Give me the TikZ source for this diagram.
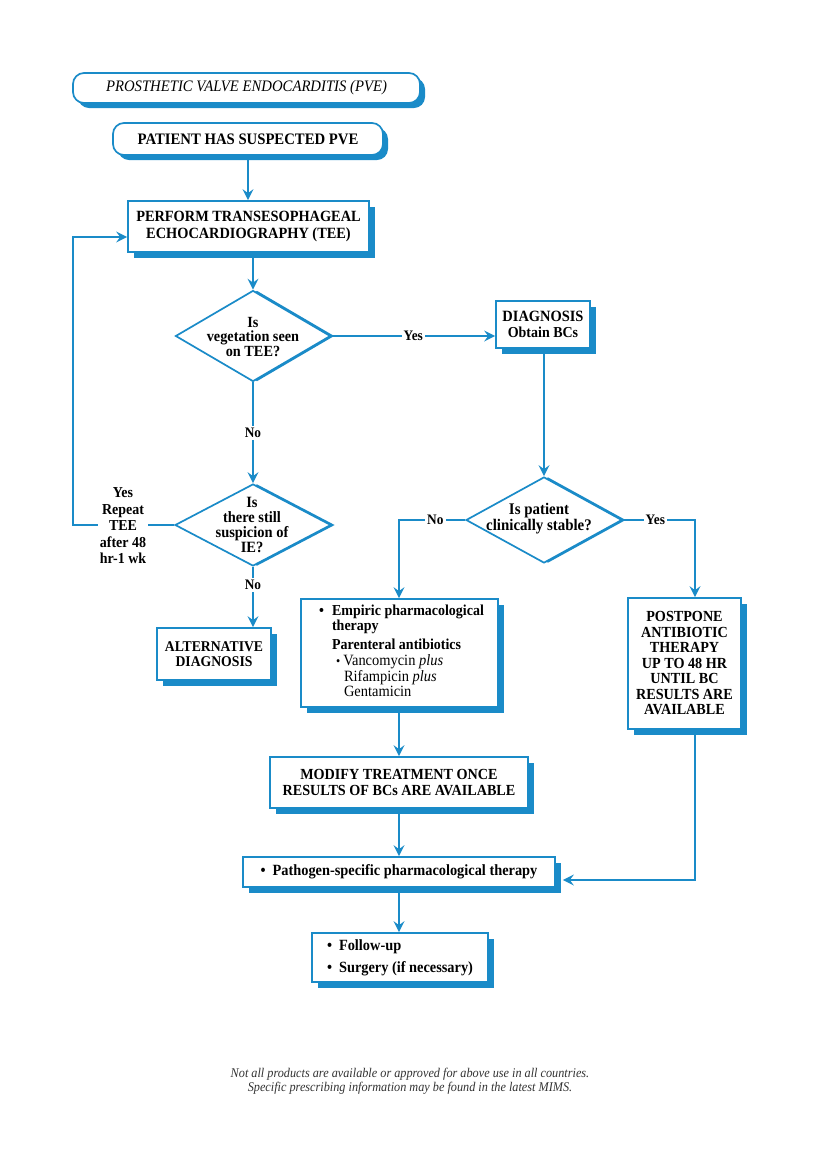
\documentclass[tikz,border=0pt]{standalone}
\usepackage{fontspec}
\setmainfont{Liberation Serif}[FakeStretch=0.92]
\usetikzlibrary{shapes.geometric,arrows.meta,shadows}
\definecolor{pblue}{HTML}{1A8BC8}
\definecolor{foot}{HTML}{333333}
\newcommand\boxfont{\bfseries\fontsize{15.4}{15.5}\selectfont}
\newcommand\fs[2]{\fontsize{#1}{#2}\selectfont}
\tikzset{
  conn/.style={draw=pblue, line width=2.5pt},
  arr/.style={conn, -{Stealth[length=11pt,width=11pt,inset=4pt]}},
  boxbase/.style={draw=pblue, line width=1.7pt, fill=white, inner sep=0pt, align=center, font=\boxfont},
  box/.style={boxbase, drop shadow={shadow xshift=6pt, shadow yshift=-6pt, fill=pblue, opacity=1}},
  rbox/.style={boxbase, rounded corners=11pt, drop shadow={shadow xshift=5pt, shadow yshift=-5pt, fill=pblue, opacity=1}},
  dia/.style={diamond, draw=pblue, line width=1.7pt, fill=white, inner sep=0pt, drop shadow={shadow xshift=4pt, shadow yshift=0pt, fill=pblue, opacity=1}},
  dtext/.style={align=center, font=\boxfont, inner sep=0pt},
  lbl/.style={fill=white, font=\bfseries\fs{14.5}{15.5}, inner sep=2pt},
}
\begin{document}
\begin{tikzpicture}[x=1pt,y=-1pt]
\useasboundingbox[fill=white] (0,0) rectangle (820,1163);

% title boxes
\node[rbox, minimum width=347pt, minimum height=30pt, font=\itshape\fs{16}{16}] (title) at (246.5,88) {PROSTHETIC VALVE ENDOCARDITIS (PVE)};
\node[rbox, minimum width=270pt, minimum height=32pt, font=\bfseries\fs{16}{16}] (pat) at (248,139) {PATIENT HAS SUSPECTED PVE};

\node[box, minimum width=241pt, minimum height=51pt, font=\bfseries\fs{15.6}{17}] (tee) at (248.5,226.5) {PERFORM TRANSESOPHAGEAL\\ECHOCARDIOGRAPHY (TEE)};

% diamonds
\node[dia, minimum width=155pt, minimum height=91pt] (d1) at (253,336) {};
\node[dtext, font=\bfseries\fs{15.5}{14.5}] (d1t) at (253,337) {Is\\vegetation seen\\on TEE?};

\node[dia, minimum width=156pt, minimum height=82pt] (d3) at (253,525) {};
\node[dtext, font=\bfseries\fs{15.7}{14.7}] (d3t) at (252,525) {Is\\there still\\suspicion of\\IE?};

\node[box, minimum width=94pt, minimum height=47pt, font=\bfseries\fs{15.2}{16}] (diag) at (543,324.5) {{\fs{15.7}{16}DIAGNOSIS}\\Obtain BCs};

\node[dia, minimum width=156pt, minimum height=86pt] (d2) at (544,520) {};
\node[dtext, font=\bfseries\fs{16.2}{16}] (d2t) at (539,519) {Is patient\\clinically stable?};

\node[box, minimum width=114pt, minimum height=52pt, font=\bfseries\fs{14.9}{15}] (alt) at (214,654) {ALTERNATIVE\\DIAGNOSIS};

\node[box, minimum width=197pt, minimum height=108pt, align=left, font=\bfseries\fs{15.2}{15.5}] (emp) at (399.5,653) {%
\hspace{4pt}\begin{tabular}{@{}p{13pt}@{}l@{}}
\textbullet & Empiric pharmacological\\
 & therapy\\[3pt]
 & Parenteral antibiotics\\[1pt]
 & \mdseries\fs{15.7}{15.5}\hspace{4pt}{\fs{13}{13}\textbullet}\hspace{3pt}Vancomycin \textit{plus}\\
 & \mdseries\fs{15.7}{15.5}\hspace{12pt}Rifampicin \textit{plus}\\
 & \mdseries\fs{15.7}{15.5}\hspace{12pt}Gentamicin
\end{tabular}};

\node[box, minimum width=113pt, minimum height=131pt] (post) at (684.5,663.5) {POSTPONE\\ANTIBIOTIC\\THERAPY\\UP TO 48 HR\\UNTIL BC\\RESULTS ARE\\AVAILABLE};

\node[box, minimum width=258pt, minimum height=51pt, font=\bfseries\fs{15.4}{16}] (mod) at (399,782.5) {MODIFY TREATMENT ONCE\\RESULTS OF BCs ARE AVAILABLE};

\node[box, minimum width=312pt, minimum height=30pt, font=\bfseries\fs{15.6}{16}] (path) at (399,872) {\textbullet\hspace{7pt}Pathogen-specific pharmacological therapy};

\node[box, minimum width=176pt, minimum height=49pt, align=left, font=\bfseries\fs{15.6}{22}] (fol) at (400,957.5) {\textbullet\hspace{7pt}Follow-up\\\textbullet\hspace{7pt}Surgery (if necessary)};

% coordinates
\coordinate (loopc) at (73,237);
\coordinate (lc) at (73,525);
\coordinate (nc) at (399,520);
\coordinate (pc) at (695,520);
\coordinate (pe) at (695,880);

% connectors
\draw[arr] (pat.south) -- (pat.south |- tee.north);
\draw[arr] (d1.north |- tee.south) -- (d1.north);
\draw[arr] (d1.east) -- node[lbl] (yes1) {Yes} (diag.west |- d1.east);
\draw[arr] (d1.south) -- node[lbl] (no1) {No} (d3.north);
\draw[arr] (d3.west) -- (lc) -- (loopc) -- (tee.west |- loopc);
\node[lbl, align=center, font=\bfseries\fs{15.2}{16.5}] (rep) at (123,526) {Yes\\Repeat\\TEE\\after 48\\hr-1 wk};
\draw[arr] (d3.south) -- node[lbl, pos=0.3] (no2) {No} (d3.south |- alt.north);
\draw[arr] (diag.south -| d2.north) -- (d2.north);
\draw[arr] (d2.west) -- node[lbl, pos=0.45] (no3) {No} (nc) -- (nc |- emp.north);
\draw[arr] (d2.east) -- node[lbl, pos=0.45] (yes2) {Yes} (pc) -- (pc |- post.north);
\draw[arr] (emp.south -| nc) -- (nc |- mod.north);
\draw[arr] (mod.south -| nc) -- (nc |- path.north);
\draw[arr] (path.south -| nc) -- (nc |- fol.north);
\draw[arr] (pc |- post.south) -- (pe) -- ([xshift=7pt]path.east |- pe);

% footer
\node[font=\itshape\fs{13.3}{14}, text=foot, align=center] (foot) at (410,1081) {Not all products are available or approved for above use in all countries.\\Specific prescribing information may be found in the latest MIMS.};
\end{tikzpicture}
\end{document}
